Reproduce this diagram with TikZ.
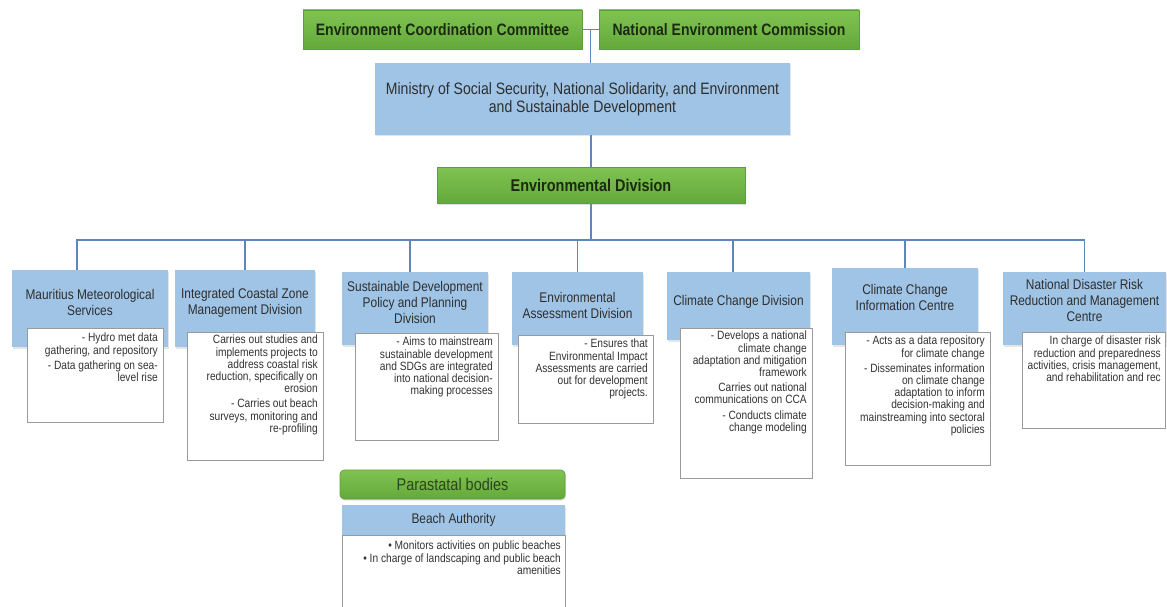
\documentclass[tikz,border=0pt]{standalone}
\usepackage{fontspec}
\setmainfont{Liberation Sans}[FakeStretch=0.85]
\usetikzlibrary{calc,shadows}
\definecolor{gtop}{HTML}{80C353}
\definecolor{gbot}{HTML}{63A93A}
\definecolor{gborder}{HTML}{5E9E36}
\definecolor{gtext}{HTML}{1C2A12}
\definecolor{ptcol}{HTML}{2C4519}
\definecolor{bfill}{HTML}{9FC4E6}
\definecolor{htcol}{HTML}{2E2E2E}
\definecolor{wborder}{HTML}{9A9A9A}
\definecolor{wtcol}{HTML}{333333}
\definecolor{lcol}{HTML}{5C86BC}
\tikzset{
  greenbox/.style={draw=gborder, line width=0.6pt, top color=gtop, bottom color=gbot,
    inner sep=0pt, outer sep=0pt, font=\fontsize{16.5}{19}\selectfont\bfseries, text=gtext,
    drop shadow={shadow xshift=1pt, shadow yshift=-1.5pt, opacity=0.25}},
  bluebox/.style={fill=bfill, inner sep=0pt, outer sep=0pt,
    drop shadow={shadow xshift=1pt, shadow yshift=-1.5pt, opacity=0.2}},
  whitebox/.style={fill=white, draw=wborder, line width=0.7pt, inner sep=0pt, outer sep=0pt},
  htext/.style={font=\fontsize{14}{16}\selectfont, text=htcol, align=center, inner sep=0pt},
  wtext/.style={font=\fontsize{12}{12.2}\selectfont, text=wtcol, align=right, inner sep=0pt},
  link/.style={draw=lcol, line width=1.8pt},
}
\begin{document}
\begin{tikzpicture}[x=1pt,y=-1pt]
\useasboundingbox (0,0) rectangle (1167,607);
\clip (0,0) rectangle (1167,607);
\fill[white] (0,0) rectangle (1167,607);

% top
\node[greenbox, minimum width=279pt, minimum height=39pt] (ecc) at (442.5,29.5) {Environment Coordination Committee};
\node[greenbox, minimum width=260pt, minimum height=39pt] (nec) at (729,29.5) {National Environment Commission};
\node[bluebox, minimum width=415pt, minimum height=72pt, font=\fontsize{16.5}{18}\selectfont, align=center, text=htcol] (min) at (582.5,99) {Ministry of Social Security, National Solidarity, and Environment\\and Sustainable Development};
\node[greenbox, minimum width=308pt, minimum height=36pt, font=\fontsize{17}{20}\selectfont\bfseries] (env) at (591,185) {Environmental Division};

% columns: blue headers
\node[bluebox, minimum width=156pt, minimum height=77pt,
  label={[name=b1t,htext,yshift=6pt]center:{Mauritius Meteorological\\Services}}] (b1) at (90,308.5) {};
\node[bluebox, minimum width=140pt, minimum height=77pt,
  label={[name=b2t,htext,yshift=6pt]center:{Integrated Coastal Zone\\Management Division}}] (b2) at (245,308.5) {};
\node[bluebox, minimum width=146pt, minimum height=73pt,
  label={[name=b3t,htext,yshift=6pt]center:{Sustainable Development\\Policy and Planning\\Division}}] (b3) at (415,308.5) {};
\node[bluebox, minimum width=131pt, minimum height=73pt,
  label={[name=b4t,htext,yshift=3pt]center:{Environmental\\Assessment Division}}] (b4) at (577.5,308.5) {};
\node[bluebox, minimum width=143pt, minimum height=68pt,
  label={[name=b5t,htext,yshift=4pt]center:{Climate Change Division}}] (b5) at (738.5,306) {};
\node[bluebox, minimum width=146pt, minimum height=77pt,
  label={[name=b6t,htext,yshift=9pt]center:{Climate Change\\Information Centre}}] (b6) at (905,306.5) {};
\node[bluebox, minimum width=163pt, minimum height=73pt,
  label={[name=b7t,htext,yshift=8pt]center:{National Disaster Risk\\Reduction and Management\\Centre}}] (b7) at (1084.5,308.5) {};

% white description boxes
\node[whitebox, minimum width=136pt, minimum height=94pt] (w1) at (95,375) {};
\node[wtext, anchor=north east] (w1t) at ([xshift=-5pt,yshift=-5pt]w1.north east)
  {- Hydro met data\\gathering, and repository\\[3pt]- Data gathering on sea-\\level rise};
\node[whitebox, minimum width=136pt, minimum height=128pt] (w2) at (255,396) {};
\node[wtext, anchor=north east] (w2t) at ([xshift=-5pt,yshift=-3pt]w2.north east)
  {Carries out studies and\\implements projects to\\address coastal risk\\reduction, specifically on\\erosion\\[3pt]- Carries out beach\\surveys, monitoring and\\re-profiling};
\node[whitebox, minimum width=143pt, minimum height=107pt] (w3) at (426.5,386.5) {};
\node[wtext, anchor=north east] (w3t) at ([xshift=-5pt,yshift=-4pt]w3.north east)
  {- Aims to mainstream\\sustainable development\\and SDGs are integrated\\into national decision-\\making processes};
\node[whitebox, minimum width=135pt, minimum height=88pt] (w4) at (585.5,379) {};
\node[wtext, anchor=north east] (w4t) at ([xshift=-5pt,yshift=-4pt]w4.north east)
  {- Ensures that\\Environmental Impact\\Assessments are carried\\out for development\\projects.};
\node[whitebox, minimum width=132pt, minimum height=150pt] (w5) at (746,403) {};
\node[wtext, anchor=north east] (w5t) at ([xshift=-5pt,yshift=-3pt]w5.north east)
  {- Develops a national\\climate change\\adaptation and mitigation\\framework\\[3pt]Carries out national\\communications on CCA\\[3pt]- Conducts climate\\change modeling};
\node[whitebox, minimum width=145pt, minimum height=133pt] (w6) at (917.5,398.5) {};
\node[wtext, anchor=north east] (w6t) at ([xshift=-5pt,yshift=-4pt]w6.north east)
  {- Acts as a data repository\\for climate change\\[3pt]- Disseminates information\\on climate change\\adaptation to inform\\decision-making and\\mainstreaming into sectoral\\policies};
\node[whitebox, minimum width=143pt, minimum height=96pt] (w7) at (1093.5,380) {};
\node[wtext, anchor=north east] (w7t) at ([xshift=-4pt,yshift=-4pt]w7.north east)
  {In charge of disaster risk\\reduction and preparedness\\activities, crisis management,\\and rehabilitation and rec};

% parastatal
\node[greenbox, rounded corners=4pt, minimum width=225pt, minimum height=29pt, font=\fontsize{17}{20}\selectfont, text=ptcol] (para) at (452.5,484.5) {Parastatal bodies};
\node[bluebox, minimum width=223pt, minimum height=30pt, font=\fontsize{14}{16}\selectfont, text=htcol] (ba) at (453.5,520) {Beach Authority};
\node[whitebox, minimum width=223pt, minimum height=80pt] (baw) at (453.5,575) {};
\node[wtext, anchor=north east] (bawt) at ([xshift=-4pt,yshift=-6pt]baw.north east)
  {• Monitors activities on public beaches\\• In charge of landscaping and public beach\\amenities};

% connectors
\coordinate (j) at ($(ecc.east)!0.5!(nec.west)$);
\coordinate (bus) at (0,240);
\coordinate (d1) at ($(b1.north west)!0.417!(b1.north east)$);
\coordinate (d3) at ($(b3.north west)!0.466!(b3.north east)$);
\coordinate (d5) at ($(b5.north west)!0.46!(b5.north east)$);
\draw[link, line width=1.3pt] (ecc.east) -- (nec.west);
\draw[link, line width=1.3pt] (j) -- (j |- min.north);
\draw[link] (env.north |- min.south) -- (env.north);
\draw[link] (env.south) -- (env.south |- bus);
\draw[link] (d1) -- (d1 |- bus) -- (b7.north |- bus) -- (b7.north);
\foreach \b in {d3,d5,b2.north,b4.north,b6.north} { \draw[link] (\b) -- (\b |- bus); }
\end{tikzpicture}
\end{document}
